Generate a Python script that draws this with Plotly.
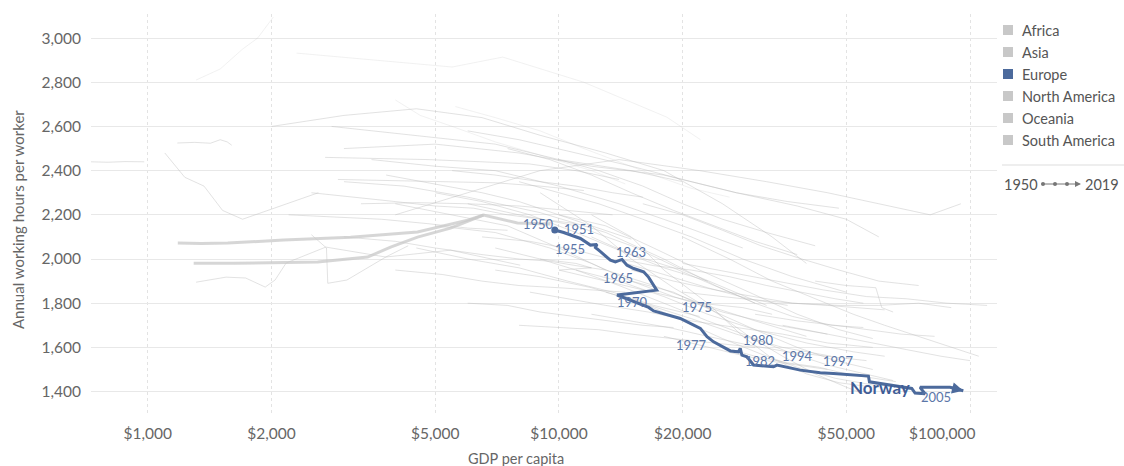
import numpy as np
import plotly.graph_objects as go

# ---------------- DATA ----------------
norway_year = [1950, 1951, 1953, 1954, 1955, 1956, 1957, 1959, 1961, 1963, 1964, 1965, 1966, 1967,
               1969, 1970, 1971, 1972, 1975, 1976, 1977, 1978, 1979, 1980, 1981, 1982, 1983, 1984,
               1987, 1988, 1994, 1997, 1999, 2000, 2001, 2004, 2005, 2006, 2008, 2012, 2019]
norway_gdp = [9770, 10270, 11280, 11930, 12380, 12270, 12620, 13340, 13720, 14240, 14640, 15200, 16070, 16530,
              17290, 13850, 16530, 17000, 19740, 22080, 22920, 23780, 26120, 27350, 27610, 27870, 28670, 29740,
              33270, 33900, 38640, 43210, 46540, 56600, 56930, 72150, 73500, 77700, 75580, 89400, 96300]
norway_hours = [2131, 2120, 2093, 2063, 2066, 2052, 2033, 1995, 1987, 1998, 1972, 1957, 1942, 1917,
                1859, 1837, 1781, 1765, 1731, 1686, 1648, 1625, 1584, 1580, 1595, 1565, 1557, 1520,
                1512, 1520, 1497, 1485, 1482, 1470, 1444, 1414, 1393, 1390, 1419, 1419, 1404]
label_years = [1950, 1951, 1955, 1963, 1965, 1970, 1975, 1977, 1980, 1982, 1994, 1997, 2005]

x_tick_vals = [1000, 2000, 5000, 10000, 20000, 50000, 100000]
x_tick_text = ["$1,000", "$2,000", "$5,000", "$10,000", "$20,000", "$50,000", "$100,000"]
y_tick_vals = [1400, 1600, 1800, 2000, 2200, 2400, 2600, 2800, 3000]

continents = ["Africa", "Asia", "Europe", "North America", "Oceania", "South America"]
timeline_start, timeline_end = 1950, 2019

# background (other countries): GDP per capita and annual hours
bg01_gdp = [727, 800, 880, 980]
bg01_hrs = [2440, 2438, 2441, 2440]
bg02_gdp = [1183, 1350, 1565, 2140, 3113, 4530, 5995, 6553, 7927, 9535]
bg02_hrs = [2072, 2070, 2072, 2086, 2099, 2122, 2176, 2199, 2163, 2158]
bg03_gdp = [1293, 1450, 1618, 2589, 3425, 3895, 4530, 5448, 6553]
bg03_hrs = [1981, 1981, 1981, 1986, 2009, 2054, 2099, 2140, 2199]
bg04_gdp = [1310, 1550, 1730, 1930, 2040, 2170, 2710, 3790, 5450, 8050]
bg04_hrs = [1895, 1918, 1914, 1873, 1905, 1982, 2054, 2009, 2040, 1972]
bg05_gdp = [2500, 2720, 2740, 3050, 3800, 4300]
bg05_hrs = [2110, 2050, 1890, 1905, 2010, 2060]
bg06_gdp = [1180, 1300, 1420, 1500, 1560, 1600]
bg06_hrs = [2525, 2528, 2524, 2540, 2530, 2515]
bg07_gdp = [1100, 1230, 1370, 1520, 1700, 2100, 2600]
bg07_hrs = [2480, 2370, 2330, 2220, 2180, 2240, 2300]
bg08_gdp = [1310, 1500, 1700, 1850, 2020]
bg08_hrs = [2810, 2860, 2950, 3000, 3095]
bg09_gdp = [2300, 3600, 5500, 7300, 11500, 18300, 22100]
bg09_hrs = [2932, 2900, 2869, 2914, 2800, 2642, 2540]
bg11_gdp = [3000, 4200, 6000, 9000, 13000, 18000, 24000, 30000]
bg11_hrs = [2350, 2330, 2280, 2210, 2120, 2000, 1880, 1800]
bg12_gdp = [3500, 5000, 7000, 10000, 14000, 20000, 28000]
bg12_hrs = [2450, 2420, 2400, 2330, 2250, 2150, 2050]
bg13_gdp = [4000, 5500, 7500, 10000, 13000, 17000, 22000, 30000, 40000]
bg13_hrs = [2250, 2200, 2150, 2050, 1950, 1880, 1800, 1720, 1650]
bg14_gdp = [2800, 3500, 5000, 7000, 10000, 15000, 20000]
bg14_hrs = [2600, 2580, 2550, 2520, 2450, 2400, 2350]
bg15_gdp = [5000, 7000, 9500, 12000, 15000, 19000, 25000, 34000, 45000]
bg15_hrs = [2150, 2120, 2050, 1980, 1900, 1830, 1760, 1700, 1660]
bg16_gdp = [6000, 8000, 11000, 15000, 20000, 26000, 32000]
bg16_hrs = [2250, 2200, 2150, 2060, 1950, 1860, 1790]
bg17_gdp = [8000, 10000, 12500, 16000, 21000, 28000, 37000, 50000]
bg17_hrs = [2350, 2300, 2250, 2180, 2100, 2000, 1920, 1850]
bg18_gdp = [9000, 11000, 14000, 18000, 23000, 30000, 40000, 52000, 62000]
bg18_hrs = [2000, 1950, 1900, 1830, 1750, 1680, 1620, 1580, 1560]
bg19_gdp = [7000, 9000, 12000, 16000, 21000, 27000, 35000, 46000]
bg19_hrs = [1950, 1920, 1870, 1800, 1730, 1660, 1600, 1560]
bg20_gdp = [10000, 13000, 17000, 22000, 29000, 38000, 48000, 58000]
bg20_hrs = [2200, 2150, 2050, 1950, 1850, 1750, 1680, 1640]
bg21_gdp = [12000, 15000, 19000, 24000, 30000, 37000, 46000, 55000]
bg21_hrs = [2100, 2020, 1960, 1880, 1800, 1740, 1700, 1690]
bg22_gdp = [11000, 14000, 18000, 23000, 29000, 36000, 45000, 55000, 65000]
bg22_hrs = [1950, 1880, 1800, 1720, 1650, 1580, 1520, 1480, 1450]
bg23_gdp = [13000, 16000, 20000, 25000, 31000, 38000, 47000, 58000, 70000]
bg23_hrs = [1850, 1800, 1720, 1640, 1570, 1510, 1460, 1430, 1420]
bg24_gdp = [15000, 19000, 24000, 30000, 38000, 47000, 58000]
bg24_hrs = [1900, 1850, 1760, 1680, 1600, 1540, 1500]
bg25_gdp = [9000, 12000, 15000, 19000, 24000, 29000, 35000, 42000, 50000, 55000]
bg25_hrs = [2300, 2150, 2000, 1870, 1760, 1650, 1560, 1480, 1420, 1390]
bg26_gdp = [12000, 15000, 18000, 23000, 28000, 33000, 40000, 48000, 58000]
bg26_hrs = [2200, 2100, 1950, 1800, 1650, 1550, 1480, 1440, 1420]
bg27_gdp = [20000, 26000, 33000, 42000, 52000, 62000, 75000, 90000, 105000]
bg27_hrs = [2100, 2000, 1900, 1820, 1750, 1700, 1650, 1600, 1560]
bg28_gdp = [15000, 19000, 24000, 30000, 37000, 45000, 54000, 62000]
bg28_hrs = [1950, 1900, 1860, 1830, 1800, 1790, 1780, 1770]
bg29_gdp = [4000, 6000, 9000, 14000, 22000, 32000, 45000, 60000, 80000, 95000]
bg29_hrs = [2200, 2300, 2400, 2450, 2400, 2350, 2300, 2250, 2200, 2250]
bg30_gdp = [2000, 3000, 4500, 6500, 9000, 13000, 18000, 25000, 33000, 40000]
bg30_hrs = [2600, 2650, 2680, 2640, 2560, 2480, 2400, 2250, 2100, 1980]
bg31_gdp = [3000, 5000, 8000, 12000, 18000, 27000, 38000, 50000, 60000]
bg31_hrs = [2500, 2520, 2480, 2420, 2380, 2300, 2240, 2180, 2100]
bg32_gdp = [3000, 4000, 5000, 6500, 8000, 9500, 11000, 13000]
bg32_hrs = [2100, 2080, 2050, 2020, 2000, 1990, 1970, 1950]
bg33_gdp = [4000, 5200, 6500, 8000, 10000, 12000, 14500]
bg33_hrs = [1950, 1930, 1900, 1880, 1870, 1860, 1850]
bg34_gdp = [2500, 3200, 4000, 5000, 6200, 7500, 9000, 11000]
bg34_hrs = [2300, 2280, 2260, 2240, 2230, 2200, 2180, 2160]
bg35_gdp = [5500, 7000, 9000, 11000, 13500, 16000]
bg35_hrs = [2400, 2380, 2350, 2330, 2300, 2280]
bg36_gdp = [2200, 2900, 3700, 4800, 6000, 7500]
bg36_hrs = [2200, 2190, 2180, 2160, 2140, 2130]
bg37_gdp = [6000, 7500, 9000, 11000, 13000, 16000, 19000]
bg37_hrs = [1800, 1790, 1760, 1740, 1720, 1700, 1690]
bg38_gdp = [8000, 10000, 12500, 15000, 19000, 24000, 30000]
bg38_hrs = [1700, 1690, 1680, 1660, 1640, 1620, 1600]
bg39_gdp = [7000, 9000, 11000, 12000, 10000, 13000, 17000, 22000, 28000, 33000]
bg39_hrs = [2050, 2000, 1980, 1960, 1950, 1900, 1850, 1800, 1780, 1750]
bg40_gdp = [14000, 17000, 21000, 26000, 32000, 39000, 47000, 55000]
bg40_hrs = [2000, 1970, 1950, 1920, 1880, 1850, 1820, 1800]
bg41_gdp = [20000, 28000, 37000, 48000, 60000, 75000, 90000]
bg41_hrs = [1850, 1820, 1800, 1790, 1790, 1800, 1780]
bg42_gdp = [30000, 38000, 47000, 56000, 68000, 82000]
bg42_hrs = [1750, 1720, 1700, 1680, 1660, 1650]
bg43_gdp = [42000, 50000, 59000, 61000, 65000]
bg43_hrs = [1900, 1880, 1870, 1780, 1760]
bg44_gdp = [18000, 22000, 27000, 32000, 38000, 45000]
bg44_hrs = [1650, 1610, 1570, 1540, 1520, 1500]
bg45_gdp = [25000, 30000, 36000, 43000, 50000, 58000, 66000]
bg45_hrs = [1600, 1560, 1530, 1510, 1480, 1460, 1445]
bg48_gdp = [2700, 3600, 4800, 6500, 8500, 11000, 14000]
bg48_hrs = [2460, 2455, 2450, 2440, 2430, 2400, 2360]
bg49_gdp = [2900, 3800, 5200, 7000, 9000, 11500]
bg49_hrs = [2360, 2355, 2350, 2345, 2330, 2310]
bg50_gdp = [3300, 4500, 6000, 8000, 10500, 13500]
bg50_hrs = [2250, 2255, 2250, 2240, 2220, 2200]
bg51_gdp = [4000, 4600, 5500, 7000, 9000, 12000, 14500]
bg51_hrs = [2720, 2650, 2600, 2530, 2470, 2400, 2340]
bg52_gdp = [5600, 7000, 9000, 11500, 14000, 17000, 21000, 26000]
bg52_hrs = [2690, 2640, 2580, 2500, 2440, 2380, 2320, 2280]
bg53_gdp = [4500, 6000, 8000, 10500, 13500, 17000, 22000]
bg53_hrs = [2050, 2000, 1960, 1900, 1850, 1790, 1740]
bg54_gdp = [6500, 8500, 11000, 14000, 18000, 23000, 29000, 36000]
bg54_hrs = [2100, 2080, 2040, 1990, 1930, 1870, 1820, 1790]
bg55_gdp = [5000, 6500, 8500, 11000, 14000, 18000, 23000]
bg55_hrs = [2300, 2260, 2200, 2120, 2040, 1960, 1900]
bg56_gdp = [7500, 9500, 12000, 15000, 19000, 24000, 30000, 38000]
bg56_hrs = [2500, 2450, 2380, 2300, 2220, 2150, 2080, 2020]
bg57_gdp = [10000, 12500, 16000, 20000, 25000, 32000, 42000]
bg57_hrs = [2450, 2400, 2330, 2250, 2180, 2120, 2060]
bg58_gdp = [16000, 20000, 25000, 31000, 39000, 48000, 60000, 75000]
bg58_hrs = [2250, 2200, 2130, 2060, 2000, 1950, 1900, 1880]
bg59_gdp = [8500, 10500, 13000, 16500, 21000, 27000, 35000, 45000, 58000]
bg59_hrs = [1850, 1820, 1790, 1760, 1720, 1690, 1660, 1620, 1600]
bg60_gdp = [12000, 15000, 18500, 23000, 29000, 36000, 45000, 56000]
bg60_hrs = [1750, 1720, 1690, 1650, 1610, 1580, 1560, 1540]
bg61_gdp = [3800, 5000, 6500, 8000, 10000, 12000, 15000]
bg61_hrs = [2380, 2340, 2300, 2260, 2200, 2150, 2090]
bg62_gdp = [6000, 8000, 11000, 15000, 20000, 27000, 36000, 48000]
bg62_hrs = [2580, 2540, 2480, 2420, 2360, 2300, 2260, 2230]
bg63_gdp = [20000, 26000, 34000, 44000, 56000, 70000, 88000, 110000]
bg63_hrs = [1980, 1940, 1900, 1860, 1830, 1820, 1800, 1790]
bg64_gdp = [35000, 45000, 57000, 70000, 85000, 100000]
bg64_hrs = [1700, 1660, 1620, 1590, 1560, 1540]

bg_thin = [(bg01_gdp, bg01_hrs), (bg04_gdp, bg04_hrs), (bg05_gdp, bg05_hrs), (bg06_gdp, bg06_hrs),
           (bg07_gdp, bg07_hrs), (bg11_gdp, bg11_hrs), (bg12_gdp, bg12_hrs), (bg13_gdp, bg13_hrs),
           (bg14_gdp, bg14_hrs), (bg15_gdp, bg15_hrs), (bg16_gdp, bg16_hrs), (bg17_gdp, bg17_hrs),
           (bg18_gdp, bg18_hrs), (bg19_gdp, bg19_hrs), (bg20_gdp, bg20_hrs), (bg21_gdp, bg21_hrs),
           (bg22_gdp, bg22_hrs), (bg23_gdp, bg23_hrs), (bg24_gdp, bg24_hrs), (bg25_gdp, bg25_hrs),
           (bg26_gdp, bg26_hrs), (bg27_gdp, bg27_hrs), (bg28_gdp, bg28_hrs), (bg29_gdp, bg29_hrs),
           (bg30_gdp, bg30_hrs), (bg31_gdp, bg31_hrs), (bg32_gdp, bg32_hrs), (bg33_gdp, bg33_hrs),
           (bg34_gdp, bg34_hrs), (bg35_gdp, bg35_hrs), (bg36_gdp, bg36_hrs), (bg37_gdp, bg37_hrs),
           (bg38_gdp, bg38_hrs), (bg39_gdp, bg39_hrs), (bg40_gdp, bg40_hrs), (bg41_gdp, bg41_hrs),
           (bg42_gdp, bg42_hrs), (bg43_gdp, bg43_hrs), (bg44_gdp, bg44_hrs), (bg45_gdp, bg45_hrs),
           (bg48_gdp, bg48_hrs), (bg49_gdp, bg49_hrs), (bg50_gdp, bg50_hrs), (bg53_gdp, bg53_hrs),
           (bg54_gdp, bg54_hrs), (bg55_gdp, bg55_hrs), (bg56_gdp, bg56_hrs), (bg57_gdp, bg57_hrs),
           (bg58_gdp, bg58_hrs), (bg59_gdp, bg59_hrs), (bg60_gdp, bg60_hrs), (bg61_gdp, bg61_hrs),
           (bg62_gdp, bg62_hrs), (bg63_gdp, bg63_hrs), (bg64_gdp, bg64_hrs)]
bg_faint = [(bg08_gdp, bg08_hrs), (bg09_gdp, bg09_hrs), (bg51_gdp, bg51_hrs), (bg52_gdp, bg52_hrs)]
bg_thick = [(bg02_gdp, bg02_hrs), (bg03_gdp, bg03_hrs)]

# ---------------- STYLE / LAYOUT ----------------
W, H = 1124, 466
L, R, T, B = 91, 997, 14, 413            # plot area in pixels
FONT = "Lato, 'Open Sans', sans-serif"
BLUE = "#4C6A9C"
GREY_TXT = "#666666"


def px(x):
    return (x - L) / (R - L)


def py(y):
    return (B - y) / (B - T)


fig = go.Figure()

for g, h in bg_faint:
    fig.add_trace(go.Scatter(x=g, y=h, mode="lines", hoverinfo="skip", showlegend=False,
                             line=dict(color="rgba(200,200,200,0.25)", width=1)))
for g, h in bg_thin:
    fig.add_trace(go.Scatter(x=g, y=h, mode="lines", hoverinfo="skip", showlegend=False,
                             line=dict(color="rgba(185,185,185,0.42)", width=1)))
for g, h in bg_thick:
    fig.add_trace(go.Scatter(x=g, y=h, mode="lines", hoverinfo="skip", showlegend=False,
                             line=dict(color="rgba(200,200,200,0.75)", width=3)))

fig.add_trace(go.Scatter(x=norway_gdp, y=norway_hours, mode="lines", showlegend=False,
                         line=dict(color=BLUE, width=3), name="Norway"))
fig.add_trace(go.Scatter(x=norway_gdp[:1], y=norway_hours[:1], mode="markers", showlegend=False,
                         marker=dict(color=BLUE, size=7)))

# end arrow
fig.add_annotation(x=np.log10(norway_gdp[-1]), y=norway_hours[-1],
                   ax=np.log10(norway_gdp[-2]), ay=norway_hours[-2], axref="x", ayref="y",
                   text="", showarrow=True, arrowhead=2, arrowsize=0.9, arrowwidth=2.5,
                   arrowcolor=BLUE)

# year labels
label_shift = {1950: (-16, 6), 1951: (15, 4), 1955: (-27, -5), 1963: (9, 7), 1965: (-16, -9),
               1970: (15, -7), 1975: (17, 11), 1977: (-16, -8), 1980: (20, 12), 1982: (18, -6),
               1994: (-3, 14), 1997: (18, 12), 2005: (21, -4)}
for yr in label_years:
    i = norway_year.index(yr)
    dx, dy = label_shift[yr]
    fig.add_annotation(x=np.log10(norway_gdp[i]), y=norway_hours[i], text=str(yr), showarrow=False,
                       xshift=dx, yshift=dy, font=dict(family=FONT, size=13, color="#5b76a8"))

# entity label
i01 = norway_year.index(2001)
fig.add_annotation(x=np.log10(norway_gdp[i01]), y=norway_hours[i01], text="Norway", showarrow=False,
                   xshift=11, yshift=-6, font=dict(family=FONT, size=17, color="#3f5d96", weight="bold"))

# axis titles
fig.add_annotation(xref="paper", yref="paper", x=px(516), y=py(458), text="GDP per capita",
                   xanchor="center", yanchor="middle",
                   showarrow=False, font=dict(family=FONT, size=14.5, color=GREY_TXT))
fig.add_annotation(xref="paper", yref="paper", x=px(18), y=py(220), text="Annual working hours per worker",
                   xanchor="center", yanchor="middle",
                   textangle=-90, showarrow=False, font=dict(family=FONT, size=15, color=GREY_TXT))

# legend
for k, name in enumerate(continents):
    yc = 30 + 22 * k
    col = BLUE if name == "Europe" else "#c8c8c8"
    fig.add_shape(type="rect", xref="paper", yref="paper", x0=px(1003), x1=px(1013),
                  y0=py(yc + 5), y1=py(yc - 5), fillcolor=col, line=dict(width=0))
    fig.add_annotation(xref="paper", yref="paper", x=px(1020), y=py(yc), text=name, showarrow=False,
                       xanchor="left", yanchor="middle", font=dict(family=FONT, size=14.5, color="#555555"))

fig.add_shape(type="line", xref="paper", yref="paper", x0=px(1002), x1=px(1124), y0=py(165), y1=py(165),
              line=dict(color="#dddddd", width=1))
fig.add_annotation(xref="paper", yref="paper", x=px(1002), y=py(184), text=str(timeline_start),
                   showarrow=False, xanchor="left", yanchor="middle",
                   font=dict(family=FONT, size=14.5, color="#555555"))
fig.add_annotation(xref="paper", yref="paper", x=px(1121), y=py(184), text=str(timeline_end),
                   showarrow=False, xanchor="right", yanchor="middle",
                   font=dict(family=FONT, size=14.5, color="#555555"))
fig.add_annotation(xref="paper", yref="paper", x=px(1081), y=py(184), ax=-41, ay=0, text="",
                   showarrow=True, arrowhead=2, arrowsize=1.2, arrowwidth=1, arrowcolor="#777777")
for xd in (1043, 1055, 1067):
    fig.add_shape(type="circle", xref="paper", yref="paper", x0=px(xd - 2), x1=px(xd + 2),
                  y0=py(186), y1=py(182), fillcolor="#777777", line=dict(width=0))

fig.update_layout(
    width=W, height=H,
    margin=dict(l=L, r=W - R, t=T, b=H - B, pad=0, autoexpand=False),
    paper_bgcolor="white", plot_bgcolor="white",
    font=dict(family=FONT, color=GREY_TXT, size=14),
    showlegend=False,
)
fig.update_xaxes(type="log", range=[np.log10(727.5), np.log10(116300)],
                 tickvals=x_tick_vals,
                 ticktext=x_tick_text[:-1] + [x_tick_text[-1] + "\u00a0" * 14],
                 showgrid=True, gridcolor="#e3e3e3", griddash="dot", gridwidth=1,
                 zeroline=False, showline=False, ticks="", ticklabelstandoff=9,
                 tickfont=dict(family=FONT, size=15.5, color=GREY_TXT), automargin=False)
fig.update_yaxes(range=[1303, 3109], tickvals=y_tick_vals, tickformat=",",
                 showgrid=True, gridcolor="#e8e8e8", gridwidth=1,
                 zeroline=False, showline=False, ticks="", ticklabelstandoff=9,
                 tickfont=dict(family=FONT, size=15.5, color=GREY_TXT), automargin=False)

fig.write_html("out.html", config={"displayModeBar": False},
               post_script="document.body.style.margin='0';document.body.style.overflow='hidden';")
